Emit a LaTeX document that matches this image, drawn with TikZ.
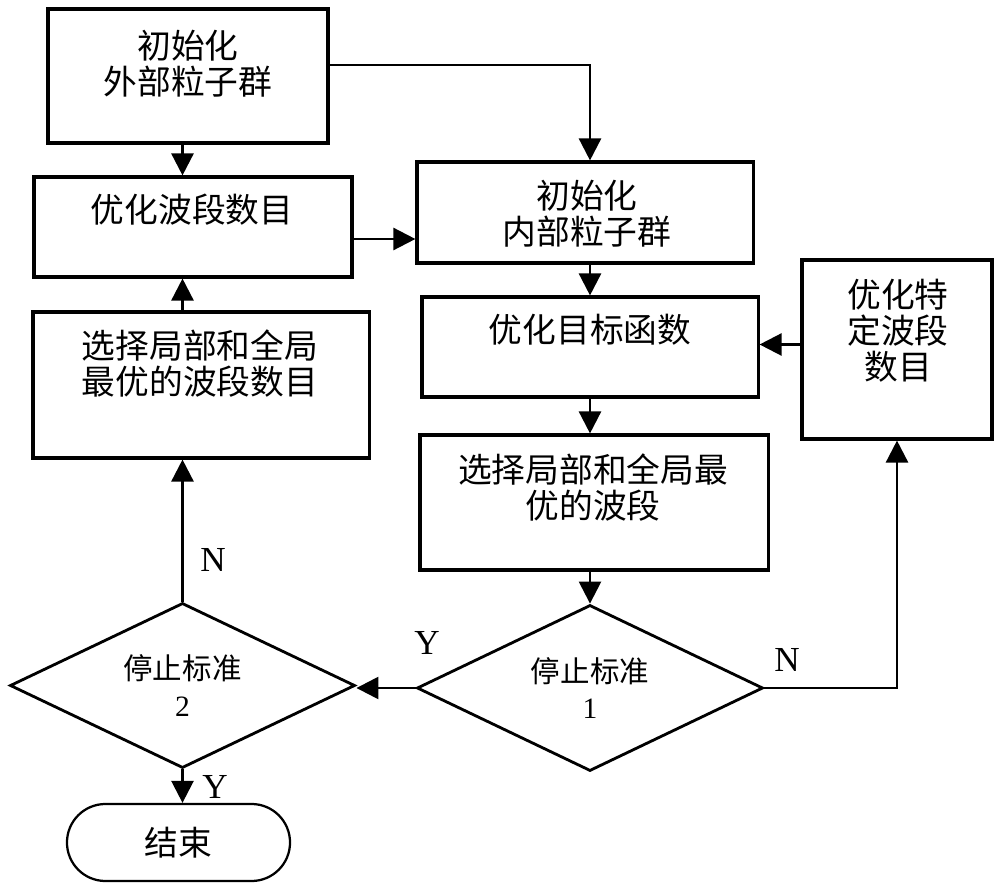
\documentclass[tikz,border=0pt]{standalone}
\usepackage{fontspec}
\setmainfont{Liberation Serif}
\newfontfamily\cjk{Noto Sans CJK SC}
\usetikzlibrary{arrows.meta,positioning,shapes.geometric,shapes.misc}

\begin{document}
\begin{tikzpicture}[x=0.025cm, y=-0.025cm, >={Triangle[length=5.5mm,width=5.5mm]},
    box/.style={draw, line width=2.2pt, inner sep=0pt},
    txt/.style={align=center, inner sep=0pt, font=\cjk\fontsize{24}{25.5}\selectfont},
    test/.style={draw, diamond, aspect=2, line width=2pt, inner sep=0pt, align=center, font=\fontsize{21}{26}\selectfont},
    stopbox/.style={draw, rounded rectangle, line width=1.6pt, inner sep=0pt, font=\cjk\fontsize{24}{25}\selectfont},
    lbl/.style={inner sep=0pt, font=\fontsize{25}{25}\selectfont},
    flow/.style={->, line width=1.8pt}]
		\useasboundingbox (0,0) rectangle (1000,891);

		% left column
		\node[box, minimum width=7cm, minimum height=3.35cm] (outer) at (188,76) {};
		\node[box, minimum width=7.95cm, minimum height=2.5cm] (nbands) at (193,227) {};
		\node[box, minimum width=8.4cm, minimum height=3.65cm] (bestn) at (201,385) {};
		\node[test, minimum width=8.625cm, minimum height=4.125cm] (stop2) at (182.5,685.5) {{\cjk 停止标准}\\2};
		\node[stopbox, minimum width=5.575cm, minimum height=1.925cm] (finish) at (178.5,842.5) {结束};

		% right column
		\node[box, minimum width=8.4cm, minimum height=2.525cm] (inner) at (585,212.5) {};
		\node[box, minimum width=8.4cm, minimum height=2.5cm] (objfn) at (590,347) {};
		\node[box, minimum width=8.7cm, minimum height=3.375cm] (bestb) at (594,502.5) {};
		\node[test, minimum width=8.65cm, minimum height=4.15cm] (stop1) at (590,688) {{\cjk 停止标准}\\1};
		\node[box, minimum width=4.75cm, minimum height=4.475cm] (fixedn) at (897,349.5) {};

		% box texts
		\node[txt] (outer-t) at (188,63.5) {初始化\\外部粒子群};
		\node[txt] (nbands-t) at (192,210) {优化波段数目};
		\node[txt] (bestn-t) at (200,363.5) {选择局部和全局\\最优的波段数目};
		\node[txt] (inner-t) at (587,214) {初始化\\内部粒子群};
		\node[txt] (objfn-t) at (590,330) {优化目标函数};
		\node[txt] (bestb-t) at (593,487.5) {选择局部和全局最\\优的波段};
		\node[txt] (fixedn-t) at (898,331) {优化特\\定波段\\数目};

		% branch labels
		\node[lbl] (yes1) at (427,643) {Y};
		\node[lbl] (no1) at (787,660) {N};
		\node[lbl] (no2) at (213,560) {N};
		\node[lbl] (yes2) at (215,787) {Y};

		\draw[flow] (outer.south -| stop2) -- (nbands.north -| stop2);
		\draw[flow] ([yshift=2.75mm]outer.east) -| (inner.north -| stop1);
		\draw[flow] ([yshift=-3mm]nbands.east) -- ([yshift=-3mm]nbands.east -| inner.west);
		\draw[flow] (inner.south -| stop1) -- (objfn.north -| stop1);
		\draw[flow] (objfn.south -| stop1) -- (bestb.north -| stop1);
		\draw[flow] (bestb.south -| stop1) -- (stop1.north);
		\draw[flow] (stop1.west) -- (stop1.west -| stop2.east);
		\draw[flow] (stop1.east) -| (fixedn.south);
		\draw[flow] ([yshift=1.25mm]fixedn.west) -- ([yshift=1.25mm]fixedn.west -| objfn.east);
		\draw[flow] (stop2.north) -- (bestn.south -| stop2);
		\draw[flow] (bestn.north -| stop2) -- (nbands.south -| stop2);
		\draw[flow] (stop2.south) -- (finish.north -| stop2);
\end{tikzpicture}
\end{document}
